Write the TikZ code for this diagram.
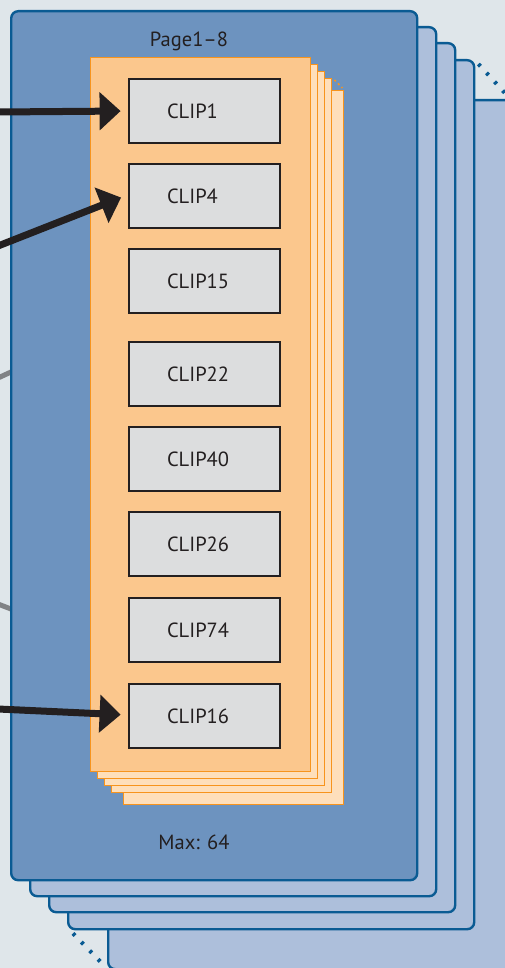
\documentclass[tikz,border=0pt]{standalone}
\usepackage{fontspec}
\setmainfont{PT Sans}
\usetikzlibrary{arrows.meta,calc}
\definecolor{bgc}{HTML}{DFE6EA}
\definecolor{pagefront}{HTML}{6D93BF}
\definecolor{pageback}{HTML}{ADBFDB}
\definecolor{pageline}{HTML}{0A5B93}
\definecolor{sheetfront}{HTML}{FBC78D}
\definecolor{sheetback}{HTML}{FEDFBB}
\definecolor{sheetline}{HTML}{F7941D}
\definecolor{clipfill}{HTML}{DCDDDE}
\definecolor{ink}{HTML}{231F20}
\definecolor{greyline}{HTML}{808285}
\begin{document}
\begin{tikzpicture}[x=1pt,y=-1pt,
  pagebox/.style={draw=pageline, line width=2.4pt, rounded corners=7pt, inner sep=0pt,
    minimum width=406pt, minimum height=869pt, anchor=north west, fill=pageback},
  sheetbox/.style={draw=sheetline, line width=1.4pt, inner sep=0pt,
    minimum width=220pt, minimum height=714pt, anchor=north west, fill=sheetback},
  clipbox/.style={draw=ink, fill=clipfill, line width=2.8pt, inner xsep=38pt, inner ysep=0pt,
    text width=75pt, align=left, minimum height=64pt, font=\fontsize{20.5}{24}\selectfont, text=ink},
  bigarrow/.style={draw=ink, line width=7pt, -{Triangle[length=21pt,width=37pt]}, shorten >=7pt},
  greyseg/.style={draw=greyline, line width=5pt},
  pagedots/.style={draw=pageline, line width=4pt, dash pattern=on 3pt off 9pt},
  sheetdots/.style={draw=sheetline, line width=1.6pt, dash pattern=on 2pt off 3pt},
  lbl/.style={font=\fontsize{20.5}{24}\selectfont, text=ink, inner sep=0pt}
]
\fill[bgc] (0,0) rectangle (505,968);
\useasboundingbox (0,0) rectangle (505,968);

% back pages
\node[pagebox] (p5) at (107,99) {};
\node[pagebox] (p4) at (67,59) {};
\node[pagebox] (p3) at (48,42) {};
\node[pagebox] (p2) at (29,26) {};
\draw[pagedots] (p4.north east) ++(3,5) -- ($(p5.north east)+(-6,-1)$);
\draw[pagedots] (p4.south west) ++(6,3) -- ($(p5.south west)+(-3,-5)$);

% grey connectors ending at the page
\coordinate (g1a) at (-2,378);
\coordinate (g1b) at (11,372);
\coordinate (g2a) at (-2,604);
\coordinate (g2b) at (11,609);
\draw[greyseg] (g1a) -- (g1b);
\draw[greyseg] (g2a) -- (g2b);

% front page
\node[pagebox, fill=pagefront] (p1) at (10,10) {};

% sheets
\node[sheetbox] (s5) at (123,90) {};
\node[sheetbox] (s4) at (111,78) {};
\node[sheetbox] (s3) at (104,71) {};
\node[sheetbox] (s2) at (97,64) {};
\node[sheetbox, fill=sheetfront] (s1) at (90,57) {};
\draw[sheetdots] ($(s4.north east)+(2,2)$) -- ($(s5.north east)+(-2,-2)$);

% clips
\node[clipbox] (c1)  at (204.5,111) {CLIP1};
\node[clipbox] (c4)  at (204.5,196) {CLIP4};
\node[clipbox] (c15) at (204.5,281) {CLIP15};
\node[clipbox] (c22) at (204.5,374) {CLIP22};
\node[clipbox] (c40) at (204.5,459) {CLIP40};
\node[clipbox] (c26) at (204.5,544) {CLIP26};
\node[clipbox] (c74) at (204.5,630) {CLIP74};
\node[clipbox] (c16) at (204.5,716) {CLIP16};

% labels
\node[lbl] (title) at (189,41) {Page1–8};
\node[lbl] (max) at (194,842) {Max: 64};

% arrows
\coordinate (a1) at (-2,112);
\coordinate (a2) at (-2,246);
\coordinate (a3) at (-2,709);
\draw[bigarrow] (a1) -- (c1.west);
\draw[bigarrow] (a2) -- ($(c4.west)+(0,-1)$);
\draw[bigarrow] (a3) -- ($(c16.west)+(0,-1)$);
\end{tikzpicture}
\end{document}
